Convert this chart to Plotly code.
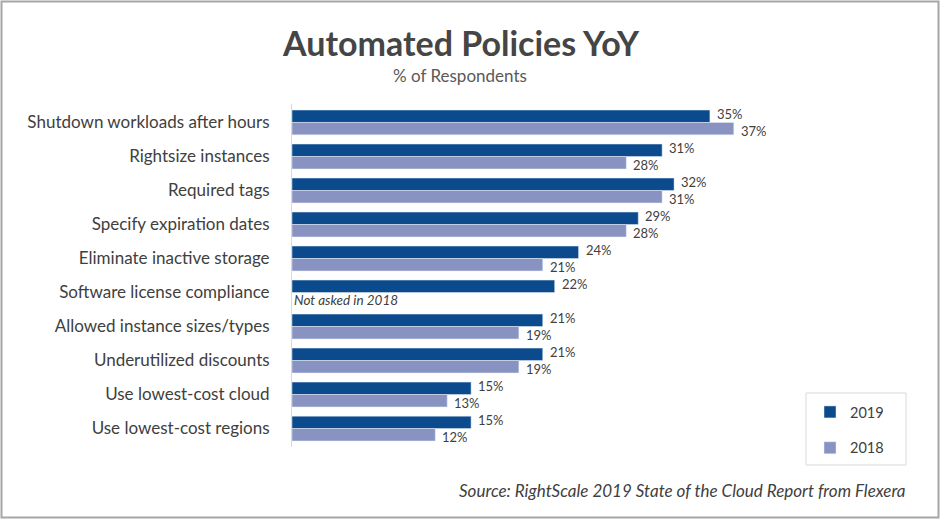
import plotly.graph_objects as go

categories = [
    "Shutdown workloads after hours",
    "Rightsize instances",
    "Required tags",
    "Specify expiration dates",
    "Eliminate inactive storage",
    "Software license compliance",
    "Allowed instance sizes/types",
    "Underutilized discounts",
    "Use lowest-cost cloud",
    "Use lowest-cost regions",
]
values_2019 = [35, 31, 32, 29, 24, 22, 21, 21, 15, 15]
values_2018 = [37, 28, 31, 28, 21, None, 19, 19, 13, 12]

C2019 = "#0B4A8C"
C2018 = "#8893C1"
TXT = "#404040"
FONT = "Lato"

W, H = 940, 520
L, R = 292, 930      # plot area px
T, B = 104, 447
PX_PER_PCT = 11.94
BARGAP = 0.27


def px(x):
    return (x - L) / (R - L)


def py(y):
    return (B - y) / (B - T)


fig = go.Figure()
fig.add_trace(go.Bar(
    y=categories, x=values_2019, name="2019", orientation="h",
    marker=dict(color=C2019), legendgroup="a",
))
fig.add_trace(go.Bar(
    y=categories, x=values_2018, name="2018", orientation="h",
    marker=dict(color=C2018), legendgroup="b",
))

# value labels (placed at bar ends, nudged apart vertically so they do not collide)
row_px = (B - T) / len(categories)
half_bar = row_px * (1 - BARGAP) / 4
for series, sign in ((values_2019, -1), (values_2018, 1)):
    for cat, v in zip(categories, series):
        if v is None:
            continue
        fig.add_annotation(
            x=v, y=cat, xref="x", yref="y", text=f"{v}%",
            xanchor="left", yanchor="middle", showarrow=False,
            xshift=5, yshift=-sign * (half_bar + 2.2),
            font=dict(size=13, color=TXT, family=FONT),
        )

fig.update_layout(
    width=W, height=H,
    margin=dict(l=L, r=W - R, t=T, b=H - B, autoexpand=False),
    paper_bgcolor="white", plot_bgcolor="white",
    barmode="group", bargap=BARGAP, bargroupgap=0,
    font=dict(family=FONT, color=TXT),
    title=dict(
        text="<b>Automated Policies YoY</b>",
        x=461 / W, xref="container", xanchor="center",
        y=1 - 44 / H, yref="container", yanchor="middle",
        font=dict(size=34, color="#454545", family=FONT),
    ),
    xaxis=dict(range=[0, (R - L) / PX_PER_PCT], showgrid=False, zeroline=False,
               showticklabels=False, showline=False, fixedrange=True),
    yaxis=dict(autorange="reversed", showgrid=False, zeroline=False,
               showline=True, linecolor="#D9D9D9", linewidth=1,
               ticks="", ticklabelstandoff=18,
               tickfont=dict(size=17, color=TXT, family=FONT)),
    showlegend=True,
    legend=dict(
        xref="paper", yref="paper",
        x=px(810), y=py(396), xanchor="left", yanchor="top",
        bgcolor="rgba(0,0,0,0)", borderwidth=0,
        traceorder="grouped", tracegroupgap=14,
        font=dict(size=14.5, color=TXT, family=FONT),
    ),
)

# legend frame
fig.add_shape(type="rect", xref="paper", yref="paper",
              x0=px(806), x1=px(906), y0=py(393), y1=py(465),
              line=dict(color="#D9D9D9", width=1), fillcolor="rgba(0,0,0,0)")
# outer frame
fig.add_shape(type="rect", xref="paper", yref="paper",
              x0=px(1.5), x1=px(938.5), y0=py(1.5), y1=py(517.5),
              line=dict(color="#A6A6A6", width=2), fillcolor="rgba(0,0,0,0)")

fig.add_annotation(text="% of Respondents", xref="paper", yref="paper",
                   x=px(460), y=py(76), xanchor="center", yanchor="middle",
                   showarrow=False, font=dict(size=17, color="#595959", family=FONT))
fig.add_annotation(text="<i>Not asked in 2018</i>", xref="x", yref="y",
                   x=0, y="Software license compliance", yshift=-7,
                   xanchor="left", yanchor="middle", xshift=0,
                   showarrow=False, font=dict(size=13.5, color=TXT, family=FONT))
fig.add_annotation(text="<i>Source: RightScale 2019 State of the Cloud Report from Flexera</i>",
                   xref="paper", yref="paper", x=px(908), y=py(490),
                   xanchor="right", yanchor="middle", showarrow=False,
                   font=dict(size=17, color=TXT, family=FONT))

fig.write_html("out.html", config={"displayModeBar": False},
               post_script="document.body.style.margin='0';")
